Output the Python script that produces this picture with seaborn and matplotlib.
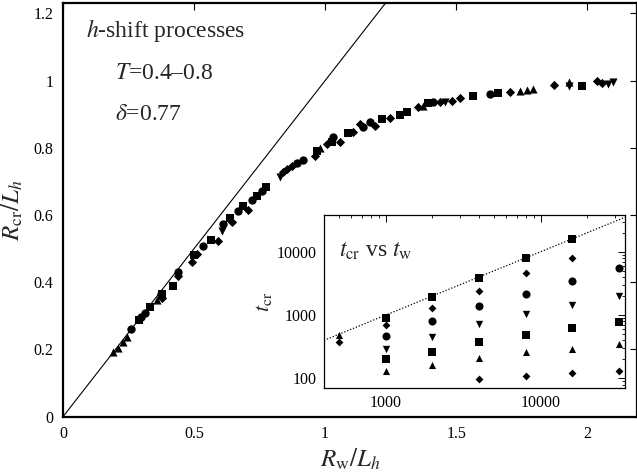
import numpy as np
import pandas as pd
import matplotlib
matplotlib.use("Agg")
import matplotlib.pyplot as plt
import seaborn as sns

sns.set_theme(style="white")
plt.rcParams['font.family'] = ['Liberation Serif', 'DejaVu Serif']
plt.rcParams['mathtext.fontset'] = 'stix'

# ---- main panel data: R_w/L_h vs R_cr/L_h ----
tri_up_x = [0.192, 0.211, 0.228, 0.243, 0.358, 0.981, 1.375, 1.744, 1.770, 1.795, 1.929]
tri_up_y = [0.192, 0.204, 0.221, 0.237, 0.348, 0.798, 0.924, 0.970, 0.973, 0.975, 0.995]
tri_dn_x = [0.606, 0.828, 1.458, 1.929, 2.081, 2.100]
tri_dn_y = [0.552, 0.712, 0.937, 0.985, 0.990, 0.995]
circ_x = [0.260, 0.298, 0.313, 0.374, 0.440, 0.536, 0.609, 0.669, 0.720, 0.758, 0.892,
          0.915, 1.032, 1.146, 1.172, 1.413, 1.630]
circ_y = [0.261, 0.297, 0.310, 0.365, 0.430, 0.507, 0.572, 0.612, 0.645, 0.672, 0.756,
          0.764, 0.831, 0.863, 0.876, 0.936, 0.960]
sq_x = [0.291, 0.332, 0.377, 0.421, 0.500, 0.564, 0.637, 0.688, 0.739, 0.775, 0.968,
        1.025, 1.089, 1.216, 1.286, 1.312, 1.394, 1.566, 1.661, 1.980]
sq_y = [0.289, 0.327, 0.365, 0.390, 0.480, 0.527, 0.592, 0.627, 0.657, 0.682, 0.791,
        0.816, 0.844, 0.886, 0.898, 0.908, 0.933, 0.955, 0.962, 0.983]
dia_x = [0.377, 0.437, 0.491, 0.510, 0.593, 0.643, 0.707, 0.841, 0.854, 0.873, 0.962,
         1.006, 1.055, 1.108, 1.134, 1.191, 1.248, 1.356, 1.439, 1.483, 1.515, 1.706,
         1.872, 2.037, 2.056]
dia_y = [0.353, 0.419, 0.460, 0.483, 0.522, 0.578, 0.615, 0.727, 0.736, 0.746, 0.776,
         0.811, 0.818, 0.848, 0.871, 0.866, 0.889, 0.921, 0.936, 0.940, 0.948, 0.967,
         0.987, 1.000, 0.992]
diag_x = [0.0, 1.3]

# ---- inset data: t_cr vs t_w ----
in_sq_top_x = [1000, 2000, 4000, 8000, 16000]
in_sq_top_y = [906, 1905, 3800, 8030, 15700]
in_dia_x = [500, 1000, 2000, 4000, 8000, 16000]
in_dia_y = [370, 695, 1276, 2420, 4570, 8030]
in_circ_x = [1000, 2000, 4000, 8000, 16000, 32000]
in_circ_y = [466, 813, 1370, 2120, 3400, 5470]
in_tdn_x = [1000, 2000, 4000, 8000, 16000, 32000]
in_tdn_y = [290, 454, 729, 1040, 1440, 2020]
in_sq_low_x = [1000, 2000, 4000, 8000, 16000, 32000]
in_sq_low_y = [200, 263, 370, 489, 630, 783]
in_tup_x = [500, 1000, 2000, 4000, 8000, 16000, 32000]
in_tup_y = [483, 132, 165, 207, 263, 290, 345]
in_dia_low_x = [4000, 8000, 16000, 32000]
in_dia_low_y = [97, 109, 120, 130]
in_line_x = [400, 35000]

fig = plt.figure(figsize=(6.37, 4.74), dpi=100)
ax = fig.add_axes([63/637, 1-416.7/474, 1-63/637, (416.7-3.3)/474])

ax.plot(diag_x, diag_x, color='black', lw=0.8)
main_sets = [
    (tri_up_x, tri_up_y, '^', 34),
    (tri_dn_x, tri_dn_y, 'v', 34),
    (circ_x, circ_y, 'o', 36),
    (sq_x, sq_y, 's', 38),
    (dia_x, dia_y, 'D', 22),
]
for xs, ys, mk, s in main_sets:
    df = pd.DataFrame({'x': xs, 'y': ys})
    sns.scatterplot(data=df, x='x', y='y', marker=mk, s=s, color='black',
                    edgecolor='black', linewidth=0, ax=ax, legend=False, zorder=3)

ax.set_xlim(0, 2.19)
ax.set_ylim(0, 1.23)
ax.set_xticks([0, 0.5, 1, 1.5, 2])
ax.set_xticklabels(['0', '0.5', '1', '1.5', '2'])
ax.set_yticks([0, 0.2, 0.4, 0.6, 0.8, 1.0, 1.2])
ax.set_yticklabels(['0', '0.2', '0.4', '0.6', '0.8', '1', '1.2'])
ax.tick_params(direction='in', top=True, right=True, length=5, width=0.8,
               labelsize=11.5, pad=7, colors='black')
for sp in ax.spines.values():
    sp.set_linewidth(1.6)
    sp.set_color('black')
ax.set_xlabel(r'$R_{\rm w}/L_h$', fontsize=18, labelpad=3)
ax.set_ylabel(r'$R_{\rm cr}/L_h$', fontsize=18, labelpad=6)

ax.text(0.04, 0.935, r'$h$-shift processes', transform=ax.transAxes,
        fontsize=17, va='center', ha='left')
ax.text(0.09, 0.83, r'$T$=0.4–0.8', transform=ax.transAxes,
        fontsize=17, va='center', ha='left')
ax.text(0.09, 0.73, r'$\delta$=0.77', transform=ax.transAxes,
        fontsize=17, va='center', ha='left')

# ---- inset ----
ins = fig.add_axes([324/637, 1-388.3/474, (625-324)/637, (388.3-215)/474])
ins.set_xscale('log')
ins.set_yscale('log')
ins.plot(in_line_x, in_line_x, color='black', lw=0.9, ls=(0, (1, 1.5)))
in_sets = [
    (in_sq_top_x, in_sq_top_y, 's', 40),
    (in_dia_x, in_dia_y, 'D', 16),
    (in_circ_x, in_circ_y, 'o', 34),
    (in_tdn_x, in_tdn_y, 'v', 28),
    (in_sq_low_x, in_sq_low_y, 's', 40),
    (in_tup_x, in_tup_y, '^', 26),
    (in_dia_low_x, in_dia_low_y, 'D', 16),
]
for xs, ys, mk, s in in_sets:
    df = pd.DataFrame({'x': xs, 'y': ys})
    sns.scatterplot(data=df, x='x', y='y', marker=mk, s=s, color='black',
                    edgecolor='black', linewidth=0, ax=ins, legend=False,
                    zorder=3, clip_on=True)
ins.set_xlim(400, 35000)
ins.set_ylim(70, 38000)
ins.set_xticks([1000, 10000])
ins.set_xticklabels(['1000', '10000'])
ins.set_yticks([100, 1000, 10000])
ins.set_yticklabels(['100', '1000', '10000'])
ins.tick_params(which='major', direction='in', top=True, right=True, length=5,
                width=0.7, labelsize=11.5, pad=5, colors='black')
ins.tick_params(which='minor', direction='in', top=True, right=True, length=2.5,
                width=0.6, colors='black')
for sp in ins.spines.values():
    sp.set_linewidth(0.9)
    sp.set_color('black')
ins.set_xlabel('')
ins.set_ylabel(r'$t_{\rm cr}$', fontsize=16, labelpad=2)
ins.text(0.05, 0.79, r'$t_{\rm cr}$ vs $t_{\rm w}$', transform=ins.transAxes,
         fontsize=17, va='center', ha='left')
ins.set_facecolor('white')

fig.savefig('out.png', dpi=100)
